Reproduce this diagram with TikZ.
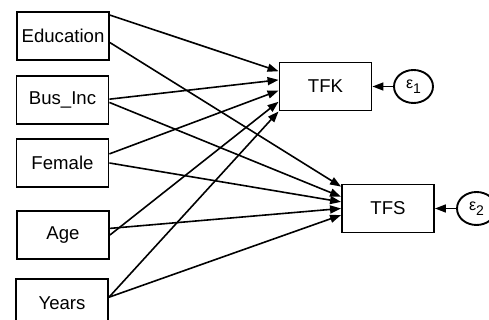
\documentclass[tikz,border=0pt]{standalone}
\usepackage{fontspec}
\setmainfont{Liberation Sans}
\usepackage{tikz}
\usetikzlibrary{arrows.meta,shapes.geometric}

\begin{document}
\begin{tikzpicture}[x=0.5pt,y=-0.5pt,
  var/.style={draw,line width=0.95pt,minimum width=46pt,minimum height=24pt,inner sep=0pt,font=\fontsize{9.3}{11}\selectfont},
  err/.style={draw,ellipse,line width=0.95pt,minimum width=19.5pt,minimum height=16.5pt,inner sep=0pt,font=\fontsize{8}{9}\selectfont},
  >={Triangle[length=5.5pt,width=4pt]},
  every path/.style={line width=0.8pt}]
  \useasboundingbox (0,0) rectangle (489,320);

  \node[var] (edu) at (63,36){Education};
  \node[var] (bus) at (62.5,100){Bus\_Inc};
  \node[var] (fem) at (62.5,163){Female};
  \node[var] (age) at (63,235){Age};
  \node[var] (yrs) at (62,303){Years};

  \node[var] (tfk) at (325.5,86.5){TFK};
  \node[var] (tfs) at (388,208.5){TFS};

  \node[err] (e1) at (413.5,86.5){ε\raisebox{-2.5pt}{\scriptsize 1}};
  \node[err] (e2) at (476.5,208.5){ε\raisebox{-2.5pt}{\scriptsize 2}};

  \draw[->] (edu.24) -- (tfk.162.7);
  \draw[->] (bus.1) -- (tfk.172);
  \draw[->] (fem.11) -- (tfk.185.5);
  \draw[->] (age.0) -- (tfk.198.4);
  \draw[->] (yrs.7) -- (tfk.south west);

  \draw[->] (edu.-8.5) -- (tfs.155);
  \draw[->] (bus.-3) -- (tfs.166);
  \draw[->] (fem.0) -- (tfs.172);
  \draw[->] (age.8.5) -- (tfs.180);
  \draw[->] (yrs.7) -- (tfs.188);

  \draw[->] (e1) -- (tfk);
  \draw[->] (e2) -- (tfs);

\end{tikzpicture}
\end{document}
